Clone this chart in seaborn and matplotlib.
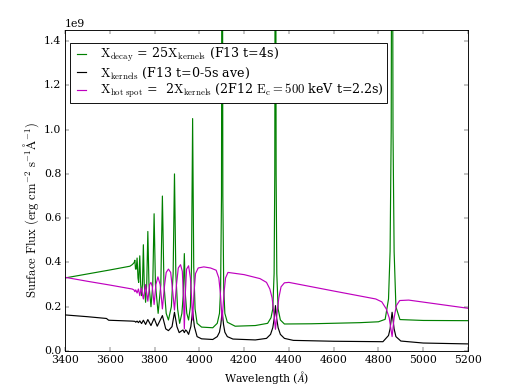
import numpy as np
import pandas as pd
import matplotlib
matplotlib.use('Agg')
import matplotlib.pyplot as plt
import seaborn as sns

# Стиль в духе старого matplotlib
plt.style.use('classic')
plt.rcParams['font.family'] = ['DejaVu Serif']
plt.rcParams['mathtext.fontset'] = 'cm'

# Данные: длина волны (A) и поток (в 1e9 erg cm^-2 s^-1 A^-1)
wl_decay = [3400, 3500, 3600, 3690, 3700, 3705, 3709, 3712, 3715, 3718, 3722, 3726, 3729,
            3734, 3738, 3742, 3746, 3750, 3754, 3760, 3765, 3770, 3775, 3784, 3792, 3798,
            3804, 3816, 3828, 3835, 3842, 3852, 3862, 3875, 3883, 3889, 3895, 3903, 3912,
            3922, 3928, 3933, 3938, 3944, 3952, 3960, 3965, 3970, 3975, 3981, 3990, 4010,
            4060, 4080, 4090, 4095, 4099, 4102, 4105, 4109, 4114, 4125, 4160, 4250, 4305,
            4320, 4328, 4334, 4337, 4340, 4343, 4346, 4352, 4362, 4380, 4500, 4717, 4800,
            4830, 4845, 4852, 4857, 4861, 4865, 4870, 4878, 4896, 5000, 5200]
flux_decay = [0.330, 0.348, 0.366, 0.383, 0.390, 0.395, 0.400, 0.410, 0.370, 0.370, 0.420,
              0.330, 0.310, 0.430, 0.300, 0.250, 0.300, 0.480, 0.300, 0.220, 0.300, 0.540,
              0.300, 0.200, 0.300, 0.620, 0.300, 0.170, 0.300, 0.700, 0.300, 0.170, 0.140,
              0.200, 0.350, 0.800, 0.350, 0.190, 0.125, 0.170, 0.250, 0.440, 0.250, 0.170,
              0.140, 0.200, 0.380, 1.050, 0.380, 0.190, 0.125, 0.108, 0.105, 0.125, 0.170,
              0.280, 0.700, 3.000, 0.700, 0.280, 0.170, 0.130, 0.112, 0.115, 0.125, 0.150,
              0.190, 0.350, 0.800, 3.000, 0.800, 0.350, 0.190, 0.140, 0.122, 0.123, 0.128,
              0.132, 0.143, 0.235, 0.450, 1.000, 3.000, 1.000, 0.450, 0.200, 0.142, 0.138,
              0.137]

wl_kernels = [3400, 3500, 3585, 3595, 3700, 3712, 3716, 3722, 3728, 3734, 3742, 3750, 3760,
              3770, 3784, 3798, 3812, 3835, 3850, 3862, 3878, 3889, 3900, 3910, 3922, 3927,
              3933, 3939, 3944, 3952, 3962, 3970, 3978, 3990, 4010, 4060, 4080, 4090, 4096,
              4102, 4108, 4114, 4125, 4150, 4250, 4300, 4318, 4328, 4335, 4340, 4345, 4352,
              4362, 4380, 4420, 4600, 4820, 4845, 4852, 4861, 4870, 4878, 4900, 5000, 5200]
flux_kernels = [0.163, 0.155, 0.147, 0.139, 0.135, 0.134, 0.130, 0.135, 0.128, 0.136, 0.124,
                0.139, 0.120, 0.142, 0.115, 0.148, 0.112, 0.160, 0.100, 0.092, 0.110, 0.175,
                0.110, 0.083, 0.092, 0.095, 0.083, 0.095, 0.090, 0.075, 0.110, 0.180, 0.110,
                0.065, 0.055, 0.052, 0.065, 0.085, 0.120, 0.180, 0.120, 0.085, 0.065, 0.054,
                0.050, 0.057, 0.075, 0.105, 0.150, 0.205, 0.150, 0.105, 0.075, 0.057, 0.048,
                0.044, 0.042, 0.070, 0.100, 0.175, 0.100, 0.065, 0.045, 0.036, 0.032]

wl_hot = [3400, 3500, 3600, 3700, 3708, 3712, 3716, 3722, 3728, 3734, 3741, 3750, 3760, 3770,
          3778, 3784, 3790, 3798, 3806, 3815, 3825, 3835, 3845, 3852, 3862, 3872, 3880, 3889,
          3898, 3906, 3916, 3924, 3929, 3933, 3937, 3943, 3952, 3960, 3965, 3970, 3976, 3983,
          3995, 4020, 4050, 4075, 4087, 4094, 4102, 4110, 4117, 4128, 4200, 4271, 4300, 4315,
          4325, 4333, 4340, 4347, 4355, 4365, 4380, 4400, 4600, 4788, 4815, 4835, 4848, 4861,
          4870, 4880, 4895, 4935, 5200]
flux_hot = [0.333, 0.315, 0.298, 0.280, 0.276, 0.268, 0.276, 0.262, 0.280, 0.250, 0.285,
            0.235, 0.300, 0.225, 0.300, 0.310, 0.290, 0.210, 0.300, 0.335, 0.300, 0.190,
            0.300, 0.355, 0.370, 0.355, 0.280, 0.185, 0.300, 0.375, 0.390, 0.360, 0.250,
            0.100, 0.250, 0.370, 0.385, 0.330, 0.250, 0.140, 0.260, 0.350, 0.375, 0.380,
            0.375, 0.365, 0.330, 0.260, 0.140, 0.260, 0.330, 0.355, 0.345, 0.327, 0.310,
            0.280, 0.240, 0.170, 0.098, 0.170, 0.240, 0.290, 0.308, 0.310, 0.271, 0.235,
            0.222, 0.190, 0.150, 0.065, 0.150, 0.205, 0.228, 0.230, 0.193]

label_decay = r'$\mathrm{X_{decay}}$ = 25$\mathrm{X_{kernels}}$ (F13 t=4s)'
label_kernels = r'$\mathrm{X_{kernels}}$ (F13 t=0-5s ave)'
label_hot = r'$\mathrm{X_{hot\ spot}}$ =  2$\mathrm{X_{kernels}}$ (2F12 $\mathrm{E_c=500}$ keV t=2.2s)'

fig, ax = plt.subplots(figsize=(8, 6), dpi=65)
fig.subplots_adjust(left=0.125, right=0.9, bottom=0.1, top=0.923)

series = [(wl_decay, flux_decay, 'g', label_decay),
          (wl_kernels, flux_kernels, 'k', label_kernels),
          (wl_hot, flux_hot, 'm', label_hot)]
for wl, flux, col, lab in series:
    df = pd.DataFrame({'Wavelength': wl, 'Flux': np.array(flux) * 1e9})
    sns.lineplot(data=df, x='Wavelength', y='Flux', color=col, label=lab,
                 estimator=None, errorbar=None, linewidth=1.3, ax=ax)

ax.set_xlim(3400, 5200)
ax.set_ylim(0, 1.45e9)
ax.set_xticks(np.arange(3400, 5201, 200))
ax.set_xlabel(r'Wavelength ($\AA$)')
ax.set_ylabel(r'$\mathrm{Surface\ Flux\ (erg\ cm^{-2}\ s^{-1} \AA^{-1})}$', fontsize=14)
ax.yaxis.set_label_coords(-0.06, 0.44)
ax.legend(loc='upper left', bbox_to_anchor=(0.012, 0.96), borderaxespad=0,
          fontsize=14, handlelength=1.3, labelspacing=0.1, borderpad=0.25)

fig.savefig('out.png', dpi=65)
